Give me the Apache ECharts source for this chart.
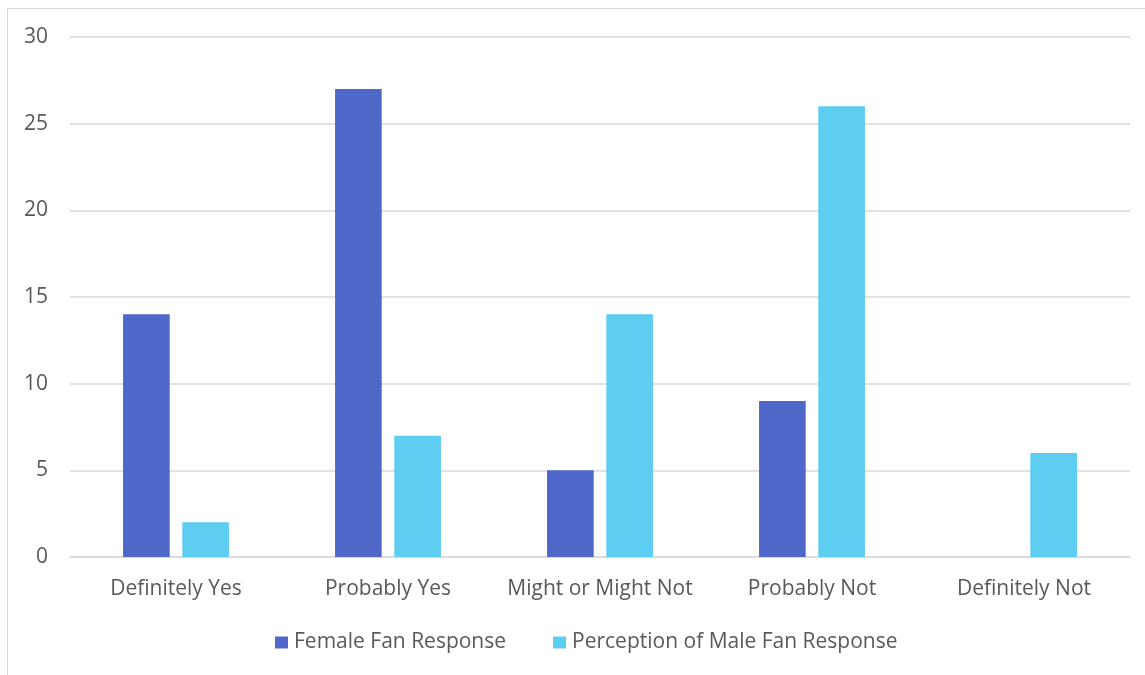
<!DOCTYPE html>
<html>
<head>
<meta charset="utf-8">
<script src="https://cdn.jsdelivr.net/npm/echarts@6/dist/echarts.min.js"></script>
<style>
  html, body { margin: 0; padding: 0; background: #fff; overflow: hidden; }
  #frame { position: absolute; left: 7px; top: 8px; width: 1200px; height: 720px;
           border: 1px solid #d9d9d9; box-sizing: border-box; }
  #chart { position: absolute; left: 0; top: 0; width: 1145px; height: 675px; }
</style>
</head>
<body>
<div id="frame"></div>
<div id="chart"></div>
<script>
const categories = ['Definitely Yes', 'Probably Yes', 'Might or Might Not', 'Probably Not', 'Definitely Not'];
const femaleResponse = [14, 27, 5, 9, 0];
const maleResponsePerception = [2, 7, 14, 26, 6];
const seriesNames = ['Female Fan Response', 'Perception of Male Fan Response'];

const textColor = '#595959';
const fontFamily = '"Open Sans", "Liberation Sans", sans-serif';

const chart = echarts.init(document.getElementById('chart'), null, { renderer: 'canvas' });
chart.setOption({
  animation: false,
  textStyle: { fontFamily: fontFamily },
  grid: { left: 70, right: 15, top: 37, bottom: 118, containLabel: false },
  legend: {
    bottom: 17,
    left: 270,
    itemWidth: 13,
    itemHeight: 12,
    itemGap: 47,
    icon: 'rect',
    textStyle: { color: textColor, fontSize: 21, fontFamily: fontFamily, padding: [0, 0, 0, 1] },
    data: seriesNames
  },
  xAxis: {
    type: 'category',
    data: categories,
    axisLine: { show: true, lineStyle: { color: '#d9d9d9', width: 1.5 } },
    axisTick: { show: false },
    axisLabel: { color: textColor, fontSize: 21, margin: 22, interval: 0 }
  },
  yAxis: {
    type: 'value',
    min: 0,
    max: 30,
    interval: 5,
    axisLine: { show: false },
    axisTick: { show: false },
    axisLabel: { color: textColor, fontSize: 21, margin: 22 },
    splitLine: { lineStyle: { color: '#d9d9d9', width: 1.5 } }
  },
  series: [
    {
      name: seriesNames[0],
      type: 'bar',
      data: femaleResponse,
      barWidth: '22%',
      barGap: '27%',
      itemStyle: { color: '#4e67c8' }
    },
    {
      name: seriesNames[1],
      type: 'bar',
      data: maleResponsePerception,
      barWidth: '22%',
      itemStyle: { color: '#5ecdf2' }
    }
  ]
});
</script>
</body>
</html>
